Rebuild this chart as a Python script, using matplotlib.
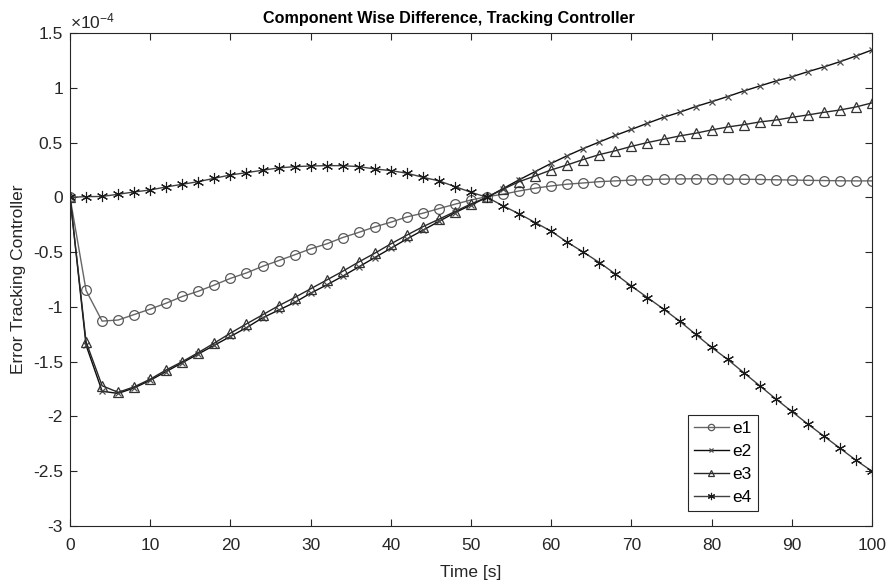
import matplotlib
matplotlib.use("Agg")
import matplotlib.pyplot as plt
import numpy as np

plt.rcParams['font.family'] = ['Liberation Sans', 'DejaVu Sans']
plt.rcParams['mathtext.fontset'] = 'custom'
plt.rcParams['mathtext.rm'] = 'Liberation Sans'
plt.rcParams['mathtext.it'] = 'Liberation Sans'

# time samples, every 2 s
t = np.arange(0, 101, 2)

# errors in units of 1e-4
e1 = [0, -0.85, -1.13, -1.12, -1.07, -1.02, -0.966, -0.905, -0.857, -0.80,
      -0.74, -0.69, -0.63, -0.578, -0.525, -0.47, -0.425, -0.367, -0.32, -0.27,
      -0.227, -0.179, -0.145, -0.103, -0.063, -0.024, 0.006, 0.028, 0.058, 0.083,
      0.104, 0.12, 0.131, 0.143, 0.15, 0.157, 0.162, 0.166, 0.168, 0.169,
      0.168, 0.167, 0.165, 0.163, 0.16, 0.158, 0.155, 0.153, 0.151, 0.15, 0.15]
e2 = [0, -1.35, -1.77, -1.79, -1.74, -1.67, -1.59, -1.51, -1.43, -1.35,
      -1.27, -1.19, -1.10, -1.03, -0.96, -0.875, -0.80, -0.72, -0.635, -0.55,
      -0.465, -0.38, -0.30, -0.22, -0.14, -0.07, 0.0, 0.08, 0.16, 0.235,
      0.31, 0.38, 0.445, 0.505, 0.565, 0.62, 0.676, 0.73, 0.776, 0.828,
      0.873, 0.92, 0.97, 1.016, 1.062, 1.10, 1.147, 1.19, 1.238, 1.29, 1.345]
e3 = [0, -1.32, -1.72, -1.78, -1.73, -1.66, -1.575, -1.50, -1.417, -1.33,
      -1.24, -1.155, -1.073, -0.99, -0.915, -0.835, -0.755, -0.675, -0.59, -0.51,
      -0.425, -0.345, -0.268, -0.20, -0.13, -0.06, 0.0, 0.074, 0.143, 0.195,
      0.25, 0.296, 0.345, 0.39, 0.425, 0.465, 0.50, 0.53, 0.56, 0.585,
      0.615, 0.642, 0.663, 0.688, 0.705, 0.73, 0.752, 0.776, 0.797, 0.825, 0.862]
e4 = [0, 0.006, 0.008, 0.028, 0.049, 0.067, 0.095, 0.119, 0.143, 0.174,
      0.204, 0.225, 0.247, 0.268, 0.280, 0.286, 0.289, 0.289, 0.28, 0.259,
      0.244, 0.22, 0.183, 0.15, 0.098, 0.046, 0.0, -0.078, -0.151, -0.23,
      -0.31, -0.41, -0.50, -0.595, -0.70, -0.81, -0.915, -1.02, -1.13, -1.25,
      -1.37, -1.48, -1.60, -1.72, -1.84, -1.955, -2.07, -2.18, -2.29, -2.40, -2.50]

labels = ['e1', 'e2', 'e3', 'e4']

fig = plt.figure(figsize=(8.91, 5.85), dpi=100)
ax = fig.add_axes([0.0786, 0.1009, 0.9001, 0.8427])

# asterisk = 6-point line marker, like the matlab '*'
asterisk = (6, 2, 0)
styles = [
    dict(color='0.4', marker='o', ms=7, mfc='none', mec='0.35', mew=0.9, lw=1.0),
    dict(color='0.05', marker='x', ms=5, mec='0.3', mew=0.9, lw=1.0),
    dict(color='0.15', marker='^', ms=7, mfc='none', mec='0.2', mew=0.9, lw=1.0),
    dict(color='0.25', marker=asterisk, ms=8, mec='0.1', mew=0.8, lw=1.0),
]
for y, lab, st in zip([e1, e2, e3, e4], labels, styles):
    ax.plot(t, y, label=lab, **st)

ax.set_xlim(0, 100)
ax.set_ylim(-3, 1.5)
ax.set_xticks(np.arange(0, 101, 10))
yt = np.arange(-3, 1.51, 0.5)
ax.set_yticks(yt)
ax.set_yticklabels(['%g' % v for v in yt])

ax.tick_params(direction='in', top=True, right=True, length=5, width=0.8,
               labelsize=12.5, colors='0.15')
ax.tick_params(axis='x', pad=9)
ax.tick_params(axis='y', pad=5)
for s in ax.spines.values():
    s.set_color('0.15')
    s.set_linewidth(0.8)

ax.text(0.0, 1.003, r'$\times10^{-4}$', transform=ax.transAxes,
        ha='left', va='bottom', fontsize=12.5, color='0.15')

ax.text(0.4726, 1.014, 'Component Wise Difference, Tracking Controller',
        transform=ax.transAxes, ha='center', va='bottom',
        fontsize=11.6, fontweight='bold')
ax.set_xlabel('Time [s]', fontsize=12.5, color='0.15', labelpad=8)
ax.set_ylabel('Error Tracking Controller', fontsize=12.5, color='0.15', labelpad=5)

leg = ax.legend(loc='upper left', bbox_to_anchor=(0.7706, 0.2252), fontsize=12.5,
                frameon=True, fancybox=False, handlelength=2.0,
                handletextpad=0.2, borderpad=0.35, labelspacing=0.45,
                borderaxespad=0.0, markerscale=0.65)
leg.get_frame().set_edgecolor('0.15')
leg.get_frame().set_linewidth(0.8)
leg.get_frame().set_alpha(1)

fig.savefig('out.png', dpi=100)
